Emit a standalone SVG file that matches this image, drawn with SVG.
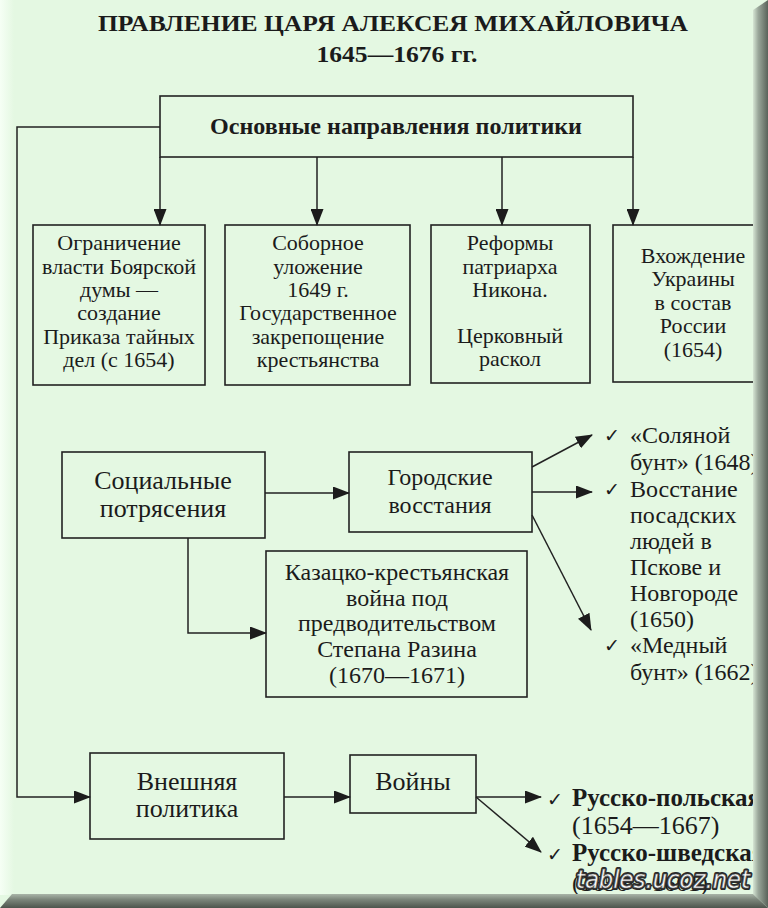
<svg xmlns="http://www.w3.org/2000/svg" width="768" height="908" viewBox="0 0 768 908">
<defs>
  <marker id="ah" markerWidth="17" markerHeight="13" refX="16" refY="6.5" orient="auto" markerUnits="userSpaceOnUse">
    <path d="M0,0 L17,6.5 L0,13 Z" fill="#1c1c1c"/>
  </marker>
  <linearGradient id="gR" x1="0" y1="0" x2="1" y2="0">
    <stop offset="0" stop-color="#d6e6d4"/>
    <stop offset="0.35" stop-color="#9aa79a"/>
    <stop offset="1" stop-color="#5a635a"/>
  </linearGradient>
  <linearGradient id="gB" x1="0" y1="0" x2="0" y2="1">
    <stop offset="0" stop-color="#a9b5a8"/>
    <stop offset="0.4" stop-color="#7b857a"/>
    <stop offset="1" stop-color="#4d554d"/>
  </linearGradient>
  <linearGradient id="gL" x1="0" y1="0" x2="1" y2="0">
    <stop offset="0" stop-color="#f6fff5"/>
    <stop offset="1" stop-color="#e4f8e2"/>
  </linearGradient>
</defs>
<style>
  .box{fill:none;stroke:#222;stroke-width:1.6}
  .ln{fill:none;stroke:#222;stroke-width:1.5}
  .t{font-family:"Liberation Serif","Times New Roman",serif;fill:#1b1b1b;text-anchor:middle}
  .l{font-family:"Liberation Serif","Times New Roman",serif;fill:#1b1b1b}
  .b{font-weight:bold}
  .s22{font-size:22px}
  .s24{font-size:24px}
  .s26{font-size:26px}
  .ck{font-family:"DejaVu Sans",sans-serif;font-size:19px;fill:#1b1b1b}
  .wm{font-family:"DejaVu Sans",sans-serif;font-style:italic;font-size:25px;fill:#fff}
</style>

<rect x="0" y="0" width="768" height="908" fill="#e4f8e2"/>
<rect x="0" y="0" width="14" height="895" fill="url(#gL)"/>

<g id="title">
  <text class="t b" x="393" y="31" font-size="24" textLength="590" lengthAdjust="spacingAndGlyphs">ПРАВЛЕНИЕ ЦАРЯ АЛЕКСЕЯ МИХАЙЛОВИЧА</text>
  <text class="t b" x="397" y="62" font-size="24" textLength="161" lengthAdjust="spacingAndGlyphs">1645—1676 гг.</text>
</g>

<g id="connectors">
  <polyline class="ln" points="160,127 17,127 17,797 90,797" marker-end="url(#ah)"/>
  <line class="ln" x1="160" y1="157" x2="160" y2="225" marker-end="url(#ah)"/>
  <line class="ln" x1="317" y1="157" x2="317" y2="225" marker-end="url(#ah)"/>
  <line class="ln" x1="502" y1="157" x2="502" y2="225" marker-end="url(#ah)"/>
  <line class="ln" x1="633" y1="157" x2="633" y2="225" marker-end="url(#ah)"/>
  <line class="ln" x1="265" y1="493" x2="349" y2="493" marker-end="url(#ah)"/>
  <polyline class="ln" points="188,538 188,633 266,633" marker-end="url(#ah)"/>
  <line class="ln" x1="532" y1="467" x2="592" y2="435" marker-end="url(#ah)"/>
  <line class="ln" x1="532" y1="492" x2="592" y2="492" marker-end="url(#ah)"/>
  <line class="ln" x1="532" y1="515" x2="591" y2="630" marker-end="url(#ah)"/>
  <line class="ln" x1="284" y1="797" x2="350" y2="797" marker-end="url(#ah)"/>
  <line class="ln" x1="476" y1="797" x2="541" y2="797" marker-end="url(#ah)"/>
  <line class="ln" x1="476" y1="797" x2="541" y2="852" marker-end="url(#ah)"/>
</g>

<g id="main">
  <rect class="box" x="160" y="96" width="473" height="61"/>
  <text class="t b" x="396" y="134" font-size="24" textLength="372" lengthAdjust="spacingAndGlyphs">Основные направления политики</text>
</g>

<g id="boyar">
  <rect class="box" x="33" y="225" width="172" height="160"/>
  <text class="t s22" x="119" y="250">Ограничение</text>
  <text class="t s22" x="119" y="274">власти Боярской</text>
  <text class="t s22" x="119" y="297">думы —</text>
  <text class="t s22" x="119" y="320">создание</text>
  <text class="t s22" x="119" y="344">Приказа тайных</text>
  <text class="t s22" x="119" y="367">дел (с 1654)</text>
</g>

<g id="ulozhenie">
  <rect class="box" x="225" y="225" width="185" height="160"/>
  <text class="t s22" x="318" y="250">Соборное</text>
  <text class="t s22" x="318" y="274">уложение</text>
  <text class="t s22" x="318" y="297">1649 г.</text>
  <text class="t s22" x="318" y="320">Государственное</text>
  <text class="t s22" x="318" y="344">закрепощение</text>
  <text class="t s22" x="318" y="367">крестьянства</text>
</g>

<g id="nikon">
  <rect class="box" x="431" y="225" width="159" height="158"/>
  <text class="t s22" x="510" y="250">Реформы</text>
  <text class="t s22" x="510" y="274">патриарха</text>
  <text class="t s22" x="510" y="297">Никона.</text>
  <text class="t s22" x="510" y="343">Церковный</text>
  <text class="t s22" x="510" y="366">раскол</text>
</g>

<g id="ukraine">
  <rect class="box" x="613" y="225" width="170" height="157"/>
  <text class="t s22" x="693" y="263">Вхождение</text>
  <text class="t s22" x="693" y="286">Украины</text>
  <text class="t s22" x="693" y="310">в состав</text>
  <text class="t s22" x="693" y="333">России</text>
  <text class="t s22" x="693" y="357">(1654)</text>
</g>

<g id="social">
  <rect class="box" x="62" y="452" width="203" height="86"/>
  <text class="t s26" x="163" y="489">Социальные</text>
  <text class="t s26" x="163" y="517">потрясения</text>
</g>

<g id="city">
  <rect class="box" x="349" y="452" width="183" height="80"/>
  <text class="t s24" x="440" y="485">Городские</text>
  <text class="t s24" x="440" y="513">восстания</text>
</g>

<g id="razin">
  <rect class="box" x="266" y="551" width="261" height="146"/>
  <text class="t s24" x="397" y="580">Казацко-крестьянская</text>
  <text class="t s24" x="397" y="606">война под</text>
  <text class="t s24" x="397" y="631">предводительством</text>
  <text class="t s24" x="397" y="657">Степана Разина</text>
  <text class="t s24" x="397" y="683">(1670—1671)</text>
</g>

<g id="riots">
  <text class="ck" x="604" y="442">✓</text>
  <text class="l s24" x="630" y="443">«Соляной</text>
  <text class="l s24" x="630" y="470">бунт» (1648)</text>
  <text class="ck" x="604" y="496">✓</text>
  <text class="l s24" x="630" y="497">Восстание</text>
  <text class="l s24" x="630" y="523">посадских</text>
  <text class="l s24" x="630" y="549">людей в</text>
  <text class="l s24" x="630" y="575">Пскове и</text>
  <text class="l s24" x="630" y="601">Новгороде</text>
  <text class="l s24" x="630" y="627">(1650)</text>
  <text class="ck" x="604" y="652">✓</text>
  <text class="l s24" x="630" y="653">«Медный</text>
  <text class="l s24" x="630" y="680">бунт» (1662)</text>
</g>

<g id="foreign">
  <rect class="box" x="90" y="753" width="194" height="86"/>
  <text class="t s26" x="187" y="790">Внешняя</text>
  <text class="t s26" x="187" y="817">политика</text>
</g>

<g id="wars">
  <rect class="box" x="350" y="755" width="126" height="58"/>
  <text class="t s26" x="413" y="790">Войны</text>
</g>

<g id="warlist">
  <text class="ck" x="547" y="806">✓</text>
  <text class="l b" x="572" y="806" font-size="25">Русско-польская</text>
  <text class="l" x="572" y="834" font-size="26">(1654—1667)</text>
  <text class="ck" x="547" y="861">✓</text>
  <text class="l b" x="572" y="861" font-size="25">Русско-шведская</text>
  <text class="l" x="572" y="891" font-size="24">(1656—1661)</text>
</g>

<polygon points="753,10 768,0 768,908 753,894" fill="url(#gR)"/>
<polygon points="0,908 12,894 753,894 768,908" fill="url(#gB)"/>

<g id="watermark">
  <text class="wm" x="576" y="888" textLength="174" lengthAdjust="spacingAndGlyphs" stroke="#2a2a2a" stroke-width="4" stroke-linejoin="round">tables.ucoz.net</text>
  <text class="wm" x="576" y="888" textLength="174" lengthAdjust="spacingAndGlyphs" stroke="#666" stroke-width="0.6">tables.ucoz.net</text>
</g>
</svg>
